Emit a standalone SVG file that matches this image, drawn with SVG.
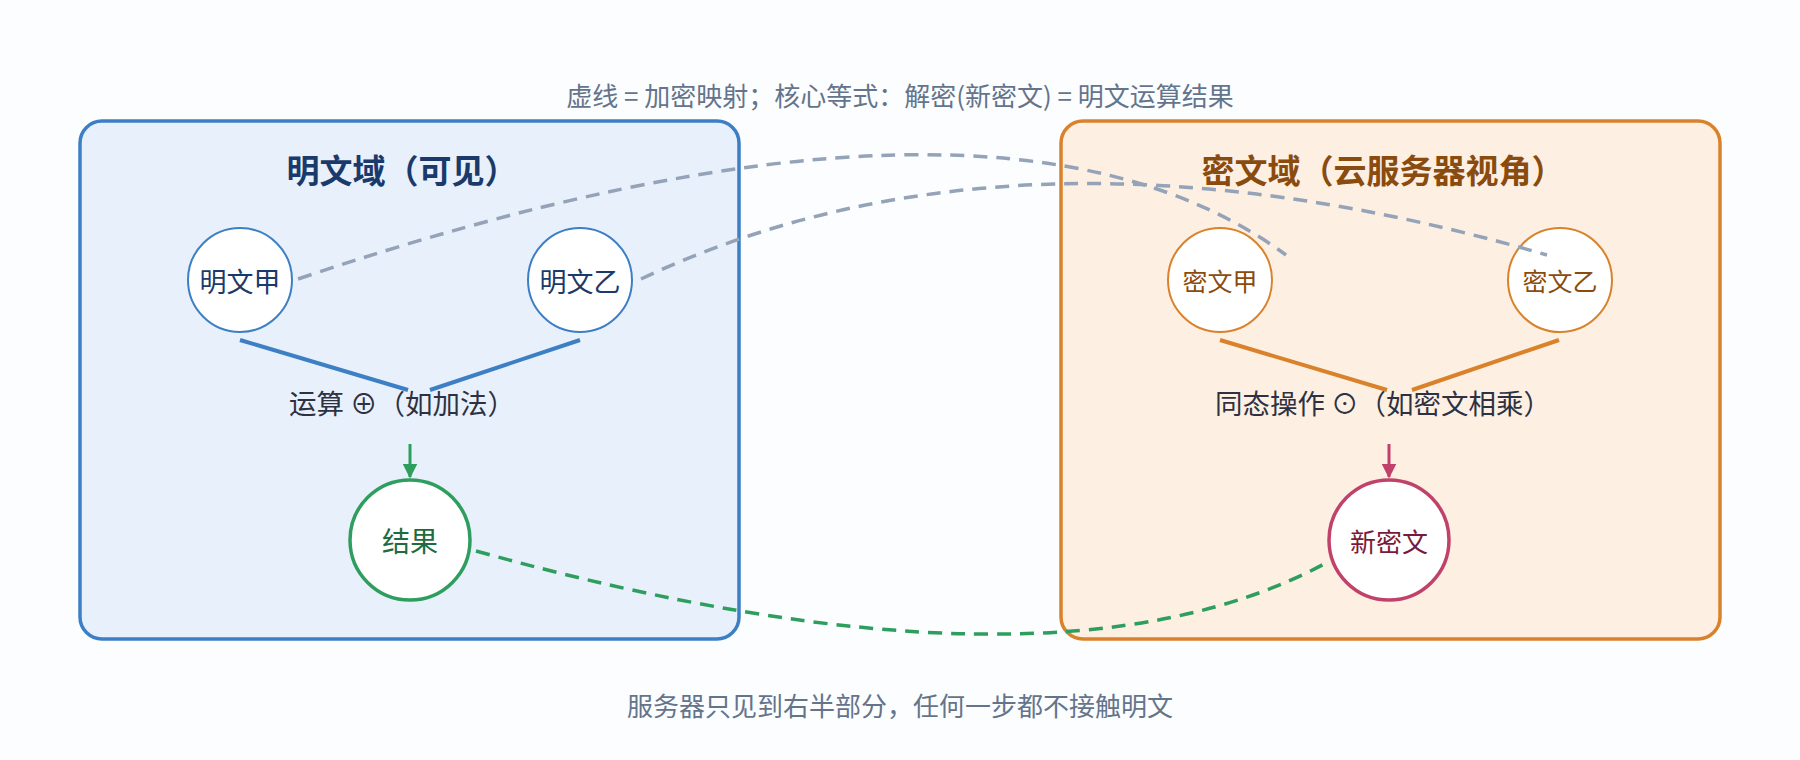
<svg xmlns="http://www.w3.org/2000/svg" width="1800" height="760" viewBox="0 0 1800 760">
<style>
text{font-family:"Noto Sans CJK SC","Liberation Sans",sans-serif;text-anchor:middle;dominant-baseline:central}
.note{fill:#64748b;font-size:26px}
.op{fill:#2d3142;font-size:27.5px}
.lbl{font-size:27px}
.dash{fill:none;stroke:#94a3b8;stroke-width:3.5;stroke-dasharray:14 9}
</style>
<defs>
<marker id="ag" viewBox="0 0 10 10" refX="9" refY="5" markerWidth="5" markerHeight="5" orient="auto"><path d="M0 0L10 5L0 10z" fill="#2e9e5e"/></marker>
<marker id="ar" viewBox="0 0 10 10" refX="9" refY="5" markerWidth="5" markerHeight="5" orient="auto"><path d="M0 0L10 5L0 10z" fill="#c0426a"/></marker>
</defs>
<rect width="1800" height="760" fill="#fbfdff"/>
<text class="note" x="900" y="94">虚线 = 加密映射；核心等式：解密(新密文) = 明文运算结果</text>
<g id="plain-domain">
<rect x="80" y="121" width="659" height="518" rx="22" fill="#e8f0fb" stroke="#3d7fc4" stroke-width="3.5"/>
<text x="402" y="169" font-size="33" font-weight="bold" fill="#1a3a6b">明文域（可见）</text>
<text class="op" x="402" y="402">运算 ⊕（如加法）</text>
</g>
<g id="cipher-domain">
<rect x="1061" y="121" width="659" height="518" rx="22" fill="#fdefe2" stroke="#d9822b" stroke-width="3.5"/>
<text x="1383" y="169" font-size="33" font-weight="bold" fill="#8a4b0f">密文域（云服务器视角）</text>
<text class="op" x="1383" y="402">同态操作 ⊙（如密文相乘）</text>
</g>
<g id="n-plainA"><circle cx="240" cy="280" r="52" fill="#fff" stroke="#3d7fc4" stroke-width="2"/><text class="lbl" x="240" y="280" fill="#1a3a6b">明文甲</text></g>
<g id="n-plainB"><circle cx="580" cy="280" r="52" fill="#fff" stroke="#3d7fc4" stroke-width="2"/><text class="lbl" x="580" y="280" fill="#1a3a6b">明文乙</text></g>
<g id="n-cipherA"><circle cx="1220" cy="280" r="52" fill="#fff" stroke="#d9822b" stroke-width="2"/><text x="1220" y="280" font-size="25" fill="#8a4b0f">密文甲</text></g>
<g id="n-cipherB"><circle cx="1560" cy="280" r="52" fill="#fff" stroke="#d9822b" stroke-width="2"/><text x="1560" y="280" font-size="25" fill="#8a4b0f">密文乙</text></g>
<g id="n-result"><circle cx="410" cy="540" r="60" fill="#fff" stroke="#2e9e5e" stroke-width="3.5"/><text x="410" y="540" font-size="28" fill="#1d6b3e">结果</text></g>
<g id="n-newcipher"><circle cx="1389" cy="540" r="60" fill="#fff" stroke="#c0426a" stroke-width="3.5"/><text x="1389" y="540" font-size="26" fill="#7a1a3a">新密文</text></g>
<g id="connectors">
<path d="M240 340L408 390M580 340L430 390" stroke="#3d7fc4" stroke-width="4" fill="none"/>
<path d="M1220 340L1387 390M1559 340L1412 390" stroke="#d9822b" stroke-width="4" fill="none"/>
<path d="M410 444V477" stroke="#2e9e5e" stroke-width="3" marker-end="url(#ag)"/>
<path d="M1389 444V477" stroke="#c0426a" stroke-width="3" marker-end="url(#ar)"/>
<path class="dash" d="M298 279Q998 43 1286 255"/>
<path class="dash" d="M641 279Q1018 101 1547 255"/>
<path d="M476 551Q1051 711 1326 563" fill="none" stroke="#2e9e5e" stroke-width="3.5" stroke-dasharray="14 9"/>
</g>
<text class="note" x="900" y="704" font-size="21.5">服务器只见到右半部分，任何一步都不接触明文</text>
</svg>
